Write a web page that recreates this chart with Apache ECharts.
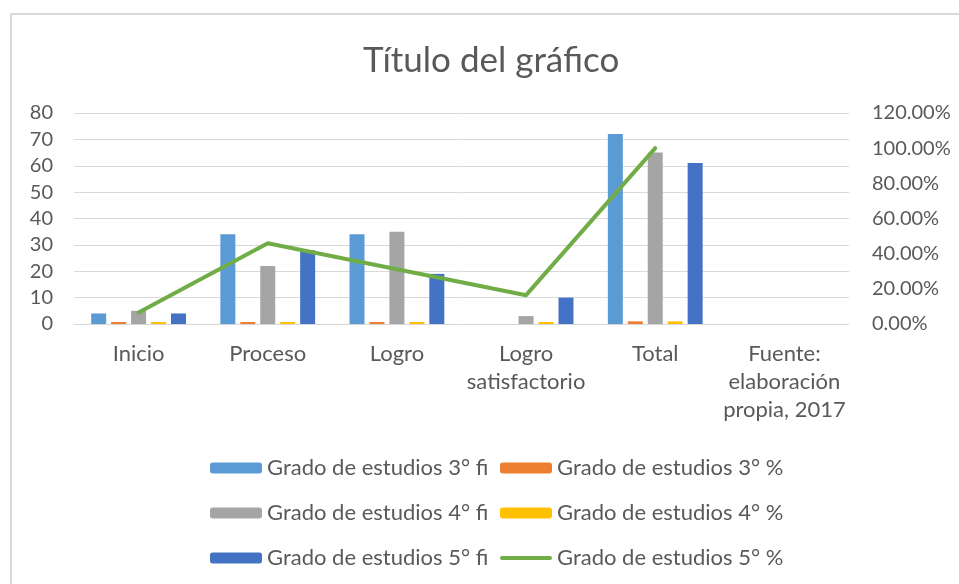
<!DOCTYPE html>
<html>
<head>
<meta charset="utf-8">
<script src="https://cdn.jsdelivr.net/npm/echarts@6/dist/echarts.min.js"></script>
<style>
html,body{margin:0;padding:0;background:#fff;}
#c{width:959px;height:584px;}
</style>
</head>
<body>
<div id="c"></div>
<script>
var categories = ['Inicio', 'Proceso', 'Logro', 'Logro\nsatisfactorio', 'Total', 'Fuente:\nelaboración\npropia, 2017'];
var g3fi = [4, 34, 34, 0, 72, null];
var g3pct = [0.0556, 0.4722, 0.4722, 0, 1, null];
var g4fi = [5, 22, 35, 3, 65, null];
var g4pct = [0.0769, 0.3385, 0.5385, 0.0462, 1, null];
var g5fi = [4, 28, 19, 10, 61, null];
var g5pct = [0.0656, 0.459, 0.3115, 0.1639, 1, null];
var leftTicks = {min: 0, max: 80, interval: 10};
var rightTicks = {min: 0, max: 1.2, interval: 0.2};

var FONT = 'Lato';
var TXT = '#595959';
var chart = echarts.init(document.getElementById('c'), null, {renderer: 'canvas'});

function noZero(arr) { return arr.map(function (v) { return v === 0 ? '-' : v; }); }

function bar(name, data, color, minH) {
  return {
    name: name, type: 'bar', data: noZero(data), yAxisIndex: 0,
    barWidth: 15, barGap: '33%', barMinHeight: minH || 0,
    itemStyle: {color: color},
    emphasis: {disabled: true}
  };
}

var legendCommon = {
  orient: 'vertical', itemWidth: 52, itemHeight: 11, itemGap: 23, padding: 0,
  textStyle: {fontFamily: FONT, fontSize: 22, lineHeight: 22, color: TXT},
  selectedMode: false
};

chart.setOption({
  animation: false,
  backgroundColor: '#fff',
  title: {
    text: 'Título del gráfico', left: 358, top: 38,
    textStyle: {fontFamily: FONT, fontSize: 35, fontWeight: 'normal', color: TXT}
  },
  graphic: [{
    type: 'rect', shape: {x: 11, y: 14, width: 1000, height: 700},
    style: {fill: 'none', stroke: '#D9D9D9', lineWidth: 2}, silent: true
  }],
  grid: {left: 74, right: 110, top: 113, bottom: 260, containLabel: false},
  legend: [
    Object.assign({left: 210, top: 457, data: ['Grado de estudios 3° fi', 'Grado de estudios 4° fi', 'Grado de estudios 5° fi']}, legendCommon),
    Object.assign({left: 500, top: 457, data: ['Grado de estudios 3° %', 'Grado de estudios 4° %', {name: 'Grado de estudios 5° %', icon: 'path://M2,0 L50,0 A2,2 0 0 1 50,4 L2,4 A2,2 0 0 1 2,0 Z'}]}, legendCommon)
  ],
  xAxis: {
    type: 'category', data: categories,
    axisLine: {lineStyle: {color: '#D9D9D9', width: 1}},
    axisTick: {show: false},
    axisLabel: {fontFamily: FONT, fontSize: 22, color: TXT, margin: 16, lineHeight: 28, interval: 0}
  },
  yAxis: [{
    type: 'value', min: leftTicks.min, max: leftTicks.max, interval: leftTicks.interval,
    axisLine: {show: false}, axisTick: {show: false},
    splitLine: {lineStyle: {color: '#D9D9D9', width: 1}},
    axisLabel: {fontFamily: FONT, fontSize: 20, color: TXT, margin: 21}
  }, {
    type: 'value', min: rightTicks.min, max: rightTicks.max, interval: rightTicks.interval,
    position: 'right',
    axisLine: {show: false}, axisTick: {show: false}, splitLine: {show: false},
    axisLabel: {fontFamily: FONT, fontSize: 20, color: TXT, margin: 23,
      formatter: function (v) { return (v * 100).toFixed(2) + '%'; }}
  }],
  series: [
    bar('Grado de estudios 3° fi', g3fi, '#5B9BD5'),
    bar('Grado de estudios 3° %', g3pct, '#ED7D31', 2),
    bar('Grado de estudios 4° fi', g4fi, '#A5A5A5'),
    bar('Grado de estudios 4° %', g4pct, '#FFC000', 2),
    bar('Grado de estudios 5° fi', g5fi, '#4472C4'),
    {
      name: 'Grado de estudios 5° %', type: 'line', yAxisIndex: 1, data: g5pct,
      showSymbol: false, symbol: 'none',
      lineStyle: {color: '#70AD47', width: 4, cap: 'round', join: 'round'},
      itemStyle: {color: '#70AD47'},
      emphasis: {disabled: true}
    }
  ]
});
</script>
</body>
</html>
